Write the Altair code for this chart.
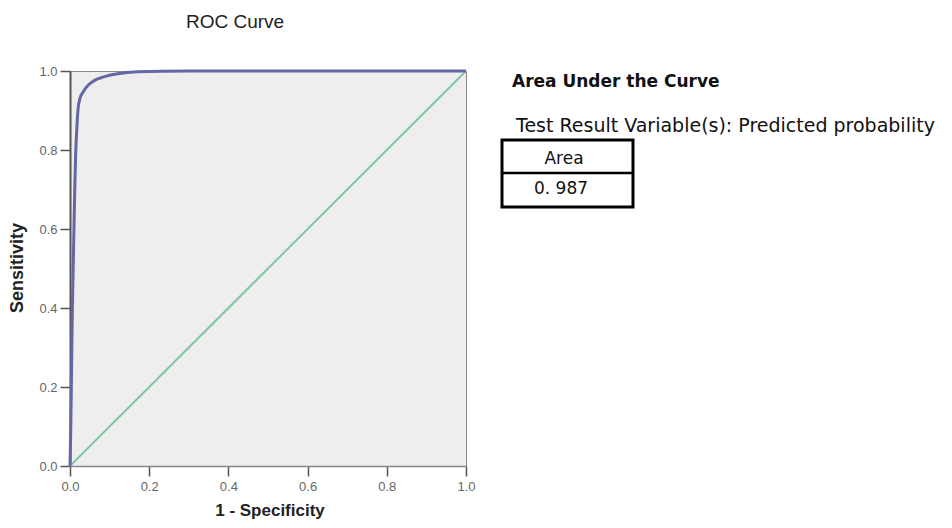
import altair as alt
import pandas as pd

# ROC curve points
fpr = [0.0, 0.002, 0.004, 0.006, 0.008, 0.010, 0.012, 0.014, 0.017, 0.020, 0.025, 0.032, 0.045, 0.060, 0.085, 0.120, 0.170, 0.300, 0.600, 1.0]
tpr = [0.0, 0.10, 0.25, 0.40, 0.50, 0.60, 0.70, 0.78, 0.85, 0.90, 0.93, 0.945, 0.963, 0.975, 0.985, 0.993, 0.998, 1.0, 1.0, 1.0]
diag_x = [0.0, 1.0]
diag_y = [0.0, 1.0]
ticks = [0.0, 0.2, 0.4, 0.6, 0.8, 1.0]

title_text = "ROC Curve"
x_title = "1 - Specificity"
y_title = "Sensitivity"
auc_heading = "Area Under the Curve"
auc_variable = "Test Result Variable(s): Predicted probability"
auc_col = "Area"
auc_value = "0. 987"

W, H = 396, 395

roc = pd.DataFrame({"fpr": fpr, "tpr": tpr, "i": range(len(fpr))})
diag = pd.DataFrame({"fpr": diag_x, "tpr": diag_y, "i": [0, 1]})

xs = alt.Scale(domain=[0, 1], nice=False, zero=False)
ys = alt.Scale(domain=[0, 1], nice=False, zero=False)

x_axis = alt.Axis(values=ticks, format=".1f", title=None, grid=False, tickSize=10,
                  labelFontSize=13, labelColor="#666", tickColor="#555", tickWidth=1.5,
                  domainColor="#888", domainWidth=1.5, labelPadding=4, labelFlush=False,
                  labelFont="Liberation Sans")
y_axis = alt.Axis(values=ticks, format=".1f", title=None, grid=False, tickSize=10,
                  labelFontSize=13, labelColor="#666", tickColor="#555", tickWidth=1.5,
                  domainColor="#555", domainWidth=2, labelPadding=3, labelFlush=False,
                  labelFont="Liberation Sans")

diag_line = alt.Chart(diag).mark_line(color="#7fc7a2", strokeWidth=2).encode(
    x=alt.X("fpr:Q", scale=xs, axis=x_axis),
    y=alt.Y("tpr:Q", scale=ys, axis=y_axis),
    order="i:Q",
)
roc_line = alt.Chart(roc).mark_line(color="#6466a6", strokeWidth=3, interpolate="monotone").encode(
    x=alt.X("fpr:Q", scale=xs),
    y=alt.Y("tpr:Q", scale=ys),
    order="i:Q",
)

base = alt.Chart(pd.DataFrame({"a": [0]}))

def txt(s, x, y, size, weight="normal", angle=0, align="center", color="#111", font="Liberation Sans"):
    return base.mark_text(text=s, fontSize=size, fontWeight=weight, angle=angle, align=align,
                          baseline="middle", font=font, color=color).encode(
        x=alt.value(x), y=alt.value(y))

texts = [
    txt(title_text, 165, -49, 19, color="#222"),
    txt(x_title, 200, 440, 17, weight="bold", color="#222"),
    txt(y_title, -52, 197, 18, weight="bold", angle=270, color="#222"),
    txt(auc_heading, 442, 11, 17, weight="bold", align="left", font="DejaVu Sans"),
    txt(auc_variable, 446, 55, 19, align="left", font="DejaVu Sans"),
    txt(auc_col, 494, 88, 17, font="DejaVu Sans"),
    txt(auc_value, 491, 118, 17, font="DejaVu Sans"),
]

box = base.mark_rect(fill="white", stroke="black", strokeWidth=3).encode(
    x=alt.value(432), x2=alt.value(563), y=alt.value(69), y2=alt.value(136))
mid = base.mark_rule(color="black", strokeWidth=2.5).encode(
    x=alt.value(432), x2=alt.value(563), y=alt.value(102))

chart = alt.layer(diag_line, roc_line, box, mid, *texts).properties(
    width=W, height=H,
    background="white",
    autosize=alt.AutoSizeParams(type="none"),
    padding={"left": 62, "top": 63, "right": 478, "bottom": 54},
).configure_view(fill="#eeeeee", stroke="#888", strokeWidth=1)

chart.save("out.html", embed_options={"renderer": "svg", "actions": False})
